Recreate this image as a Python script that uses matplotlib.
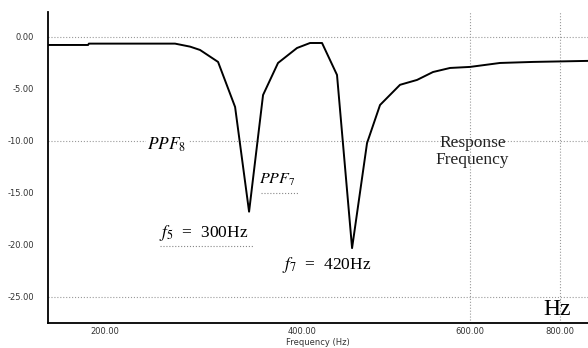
import matplotlib
matplotlib.use("Agg")
import matplotlib.pyplot as plt

# --- data ---
freq = [142, 182.7, 183.5, 271, 286.3, 296.4, 314.7, 332, 346.2, 360.4, 375.6,
        394.9, 408.1, 420.3, 435.5, 450.8, 466, 479.2, 499.5, 516.8, 533,
        550.3, 570.6, 601, 634.5, 690.4]
gain_db = [-0.77, -0.77, -0.64, -0.64, -0.93, -1.25, -2.4, -6.73, -16.8, -5.58, -2.5,
           -1.06, -0.58, -0.58, -3.65, -20.3, -10.2, -6.54, -4.6, -4.13, -3.37,
           -2.98, -2.88, -2.5, -2.4, -2.3]

y_ticks = [0, -5, -10, -15, -20, -25]
y_labels = ["0.00", "-5.00", "-10.00", "-15.00", "-20.00", "-25.00"]
y_grid = [0, -10, -25]
x_ticks = [200, 400, 570.6, 662]
x_labels = ["200.00", "400.00", "600.00", "800.00"]

plt.rcParams["mathtext.fontset"] = "stix"

fig = plt.figure(figsize=(5.88, 3.48), dpi=100)
ax = fig.add_axes([48 / 588, 1 - 323 / 348, 1 - 48 / 588, (323 - 12) / 348])

ax.plot(freq, gain_db, color="black", lw=1.4, zorder=3)

ax.set_xlim(142, 690.4)
ax.set_ylim(-27.5, 2.4)

# grid: only some horizontal lines, vertical only at the two right ticks
for y in y_grid:
    ax.axhline(y, color="#9a9a9a", lw=0.8, ls=":", zorder=0)
for x in x_ticks[2:]:
    ax.axvline(x, color="#9a9a9a", lw=0.8, ls=":", zorder=0)

ax.set_yticks(y_ticks)
ax.set_yticklabels(y_labels)
ax.set_xticks(x_ticks)
ax.set_xticklabels(x_labels)
ax.tick_params(length=0, labelsize=6, colors="#333333")
ax.tick_params(axis="y", pad=10)
ax.tick_params(axis="x", pad=3)

for s in ["top", "right"]:
    ax.spines[s].set_visible(False)
for s in ["left", "bottom"]:
    ax.spines[s].set_linewidth(1.3)

ax.set_xlabel("Frequency (Hz)", fontsize=6, color="#333333", labelpad=1)

serif = "Liberation Serif"
ax.text(243, -10.4, r"$PPF_8$", fontsize=12.5, family=serif, va="center",
        bbox=dict(facecolor="white", edgecolor="none", pad=1), zorder=2)
ax.text(356, -13.7, r"$PPF_7$", fontsize=11.5, family=serif, va="center")
ax.plot([358, 396], [-15.0, -15.0], color="#888888", lw=0.8, ls=":")
ax.text(255, -18.8, r"$f_5$  =  300Hz", fontsize=12.5, family=serif, va="center")
ax.plot([256, 350], [-20.1, -20.1], color="#888888", lw=0.8, ls=":")
ax.text(380, -21.9, r"$f_7$  =  420Hz", fontsize=12.5, family=serif, va="center")
ax.text(573, -11.0, "Response\nFrequency", fontsize=12.5, family=serif,
        ha="center", va="center", linespacing=1.1, color="#222222")
ax.text(673, -26.2, "Hz", fontsize=17, family=serif, ha="right", va="center")

fig.savefig("out.png", dpi=100)
